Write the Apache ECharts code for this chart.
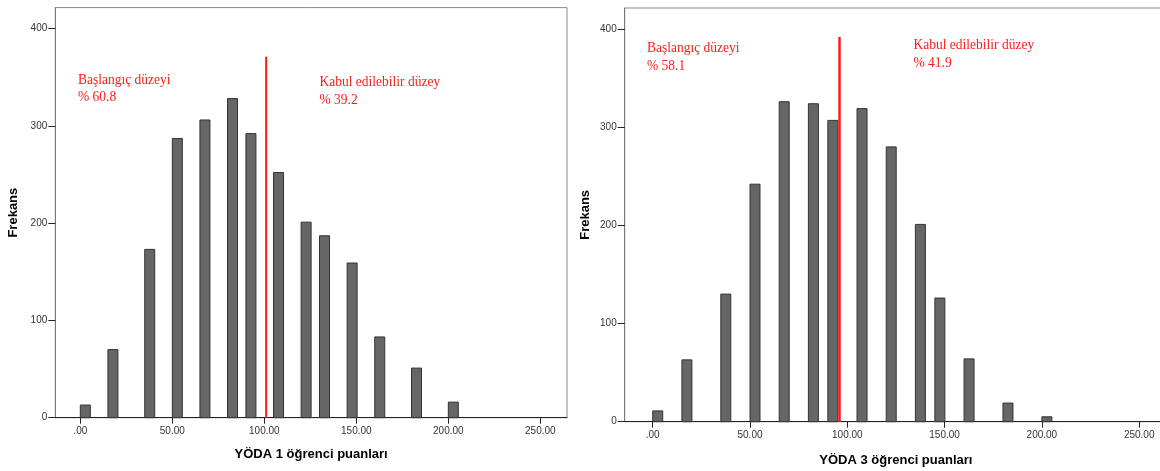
<!DOCTYPE html>
<html>
<head>
<meta charset="utf-8">
<script src="https://cdn.jsdelivr.net/npm/echarts@6/dist/echarts.min.js"></script>
<style>
html,body{margin:0;padding:0;background:#fff;}
#chart{width:1160px;height:471px;}
</style>
</head>
<body>
<div id="chart"></div>
<script>
// ---- data ----
const xTicks = [0, 50, 100, 150, 200, 250];
const xTickLabels = ['.00', '50.00', '100.00', '150.00', '200.00', '250.00'];
const yTicks = [0, 100, 200, 300, 400];
const yTickLabels = ['0', '100', '200', '300', '400'];

const yoda1Scores = [0, 15, 35, 50, 65, 80, 90, 105, 120, 130, 145, 160, 180, 200];
const yoda1Freq   = [13, 70, 173, 287, 306, 328, 292, 252, 201, 187, 159, 83, 51, 16];
const yoda1Cut = 101;
const yoda1CutTop = 371;

const yoda3Scores = [0, 15, 35, 50, 65, 80, 90, 105, 120, 135, 145, 160, 180, 200];
const yoda3Freq   = [11, 63, 130, 242, 326, 324, 307, 319, 280, 201, 126, 64, 19, 5];
const yoda3Cut = 96;
const yoda3CutTop = 392;

const xTitles = ['YÖDA 1 öğrenci puanları', 'YÖDA 3 öğrenci puanları'];
const yTitle = 'Frekans';
const leftLabels = [['Başlangıç düzeyi', '% 60.8'], ['Başlangıç düzeyi', '% 58.1']];
const rightLabels = [['Kabul edilebilir düzey', '% 39.2'], ['Kabul edilebilir düzey', '% 41.9']];

// ---- chart ----
const BAR_PX = 10;
const SANS = '"Liberation Sans", Arial, sans-serif';
const SERIF = '"Liberation Serif", "Times New Roman", serif';
const RED = '#ff1a1a';

function renderBar(params, api) {
  const x = api.value(0), y = api.value(1);
  const top = api.coord([x, y]);
  const base = api.coord([x, 0]);
  return {
    type: 'rect',
    shape: { x: top[0], y: top[1], width: BAR_PX, height: base[1] - top[1] },
    style: { fill: '#666666', stroke: '#333333', lineWidth: 1 }
  };
}

function xAxisDef(idx, gap, min, max) {
  return {
    type: 'value', gridIndex: idx, min: min, max: max,
    name: xTitles[idx], nameLocation: 'middle', nameGap: gap,
    nameTextStyle: { fontFamily: SANS, fontWeight: 'bold', fontSize: 13, color: '#000' },
    axisLine: { show: true, onZero: false, lineStyle: { color: '#222', width: 1 } },
    axisTick: { show: true, length: 6, customValues: xTicks, lineStyle: { color: '#222' } },
    axisLabel: {
      show: true, margin: 9, customValues: xTicks, fontFamily: SANS, fontSize: 10, color: '#333',
      formatter: v => xTickLabels[xTicks.indexOf(v)]
    },
    splitLine: { show: false }
  };
}
function yAxisDef(idx, gap) {
  return {
    type: 'value', gridIndex: idx, min: 0, max: 421.5,
    name: yTitle, nameLocation: 'middle', nameGap: gap, nameRotate: 90,
    nameTextStyle: { fontFamily: SANS, fontWeight: 'bold', fontSize: 13, color: '#000' },
    axisLine: { show: true, onZero: false, lineStyle: { color: '#777', width: 1 } },
    axisTick: { show: true, length: 7, customValues: yTicks, lineStyle: { color: '#222' } },
    axisLabel: {
      show: true, margin: 8, customValues: yTicks, fontFamily: SANS, fontSize: 10, color: '#333',
      formatter: v => yTickLabels[yTicks.indexOf(v)]
    },
    splitLine: { show: false }
  };
}

function textLines(lines, x, y0, step) {
  return lines.map((t, i) => ({
    type: 'text', x: x, y: y0 + i * step, scaleX: 0.9,
    style: { text: t, fill: RED, font: '15px ' + SERIF, verticalAlign: 'middle', align: 'left' },
    z: 100
  }));
}

const chart = echarts.init(document.getElementById('chart'), null, { renderer: 'canvas' });
chart.setOption({
  animation: false,
  backgroundColor: '#fff',
  grid: [
    { left: 55.3, top: 7.6, width: 511.7, height: 410.1, show: true, borderColor: '#888', borderWidth: 1,
      containLabel: false, outerBoundsMode: 'none' },
    { left: 624.7, top: 8, width: 542.3, height: 413.7, show: true, borderColor: '#888', borderWidth: 1,
      containLabel: false, outerBoundsMode: 'none' }
  ],
  xAxis: [xAxisDef(0, 30, -13.6, 264.5), xAxisDef(1, 32, -14.4, 264.3)],
  yAxis: [yAxisDef(0, 35), yAxisDef(1, 33)],
  series: [
    { type: 'custom', xAxisIndex: 0, yAxisIndex: 0, renderItem: renderBar, encode: { x: 0, y: 1 },
      data: yoda1Scores.map((s, i) => [s, yoda1Freq[i]]), z: 2 },
    { type: 'custom', xAxisIndex: 1, yAxisIndex: 1, renderItem: renderBar, encode: { x: 0, y: 1 },
      data: yoda3Scores.map((s, i) => [s, yoda3Freq[i]]), z: 2 },
    { type: 'line', xAxisIndex: 0, yAxisIndex: 0, symbol: 'none', z: 5,
      lineStyle: { color: RED, width: 2 }, data: [[yoda1Cut, 0], [yoda1Cut, yoda1CutTop]] },
    { type: 'line', xAxisIndex: 1, yAxisIndex: 1, symbol: 'none', z: 5,
      lineStyle: { color: RED, width: 2.5 }, data: [[yoda3Cut, 0], [yoda3Cut, yoda3CutTop]] }
  ],
  graphic: [].concat(
    textLines(leftLabels[0], 78, 80, 17.5),
    textLines(rightLabels[0], 319.5, 82.5, 17.5),
    textLines(leftLabels[1], 647, 48, 18),
    textLines(rightLabels[1], 913.5, 45.5, 18)
  )
});
</script>
</body>
</html>
